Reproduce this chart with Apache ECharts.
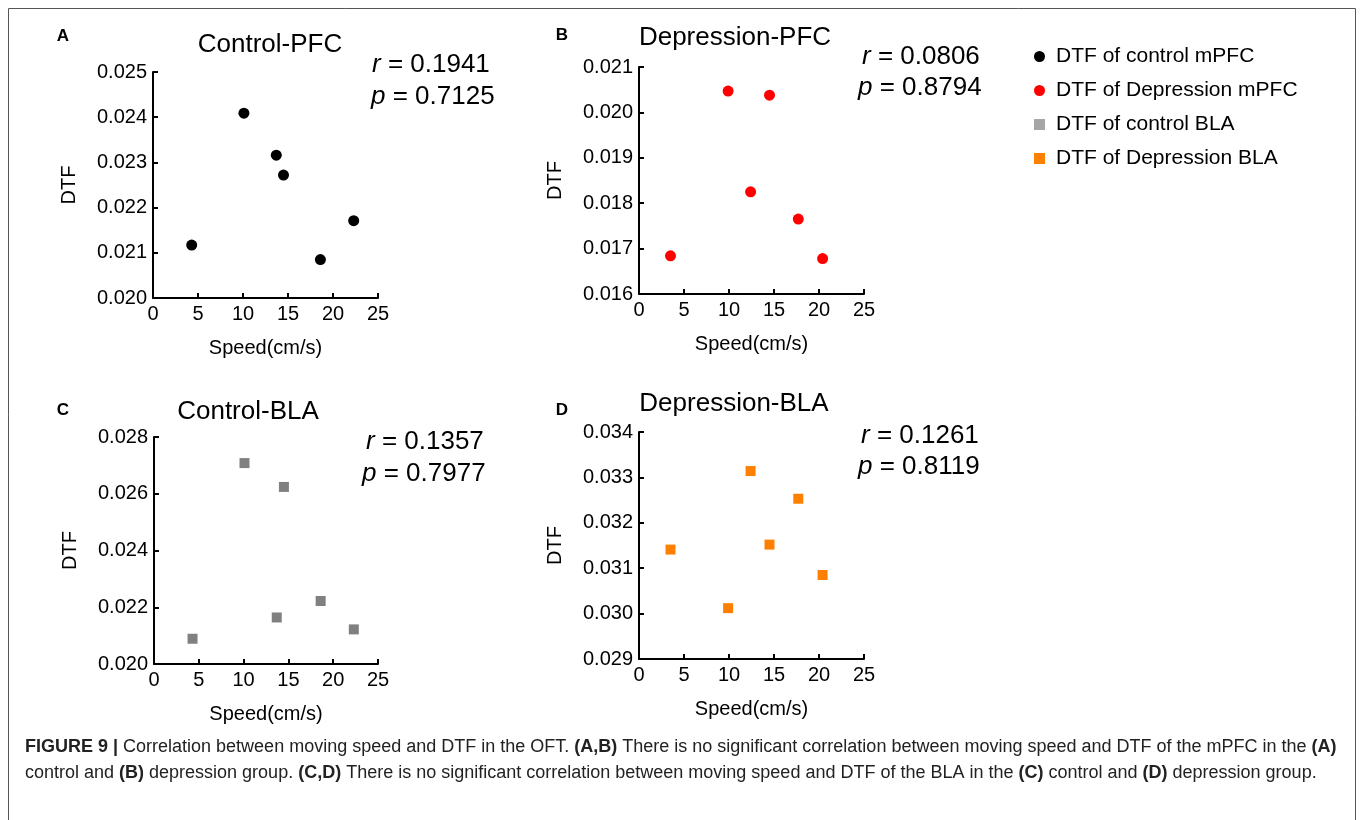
<!DOCTYPE html>
<html>
<head>
<meta charset="utf-8">
<title>Figure 9 - speed vs DTF</title>
<script src="https://cdn.jsdelivr.net/npm/echarts@6/dist/echarts.min.js"></script>
<style>
  html, body { margin: 0; padding: 0; background: #fff; }
  #chart { width: 1360px; height: 820px; }
</style>
</head>
<body>
<div id="chart"></div>
<script>
// speed of each animal (cm/s), same animals in PFC and BLA panels
const speedControl = [4.3, 10.1, 13.7, 14.5, 18.6, 22.3];
const speedDepression = [3.5, 9.9, 12.4, 14.5, 17.7, 20.4];

const dtfControlPFC = [0.02117, 0.02409, 0.02316, 0.02272, 0.02085, 0.02171];
const dtfDepressionPFC = [0.01684, 0.02047, 0.01825, 0.02038, 0.01765, 0.01678];
const dtfControlBLA = [0.02089, 0.02708, 0.02164, 0.02624, 0.02222, 0.02122];
const dtfDepressionBLA = [0.03141, 0.03012, 0.03314, 0.03152, 0.03253, 0.03085];

const panelLetters = ['A', 'B', 'C', 'D'];
const panelTitles = ['Control-PFC', 'Depression-PFC', 'Control-BLA', 'Depression-BLA'];
const seriesNames = ['DTF of control mPFC', 'DTF of Depression mPFC', 'DTF of control BLA', 'DTF of Depression BLA'];
const rValues = ['0.1941', '0.0806', '0.1357', '0.1261'];
const pValues = ['0.7125', '0.8794', '0.7977', '0.8119'];

const yMin = [0.020, 0.016, 0.020, 0.029];
const yMax = [0.025, 0.021, 0.028, 0.034];
const yStep = [0.001, 0.001, 0.002, 0.001];
const xMin = 0, xMax = 25, xStep = 5;

const FONT = '"Liberation Sans", Arial, Helvetica, sans-serif';

// layout of each panel (px)
const grids = [
    { left: 153, top: 72, width: 225, height: 226 },
    { left: 639, top: 67, width: 225, height: 227 },
    { left: 154, top: 437, width: 224, height: 227 },
    { left: 639, top: 432, width: 225, height: 227 },
];
const letterPos = [[63, 36], [562, 35], [63, 410], [562, 410]];
const titlePos = [[270, 45], [735, 38], [248, 412], [734, 404]];
const rPos = [[372, 65], [862, 57], [366, 442], [861, 436]];
const pPos = [[371, 97], [858, 88], [362, 474], [858, 467]];

const colors = ['#000000', '#ff0000', '#808080', '#ff8000'];
const legendColors = ['#000000', '#ff0000', '#a6a6a6', '#ff8000'];
const symbols = ['circle', 'circle', 'rect', 'rect'];
const symbolSizes = [11, 11, 10, 10];

const xs = [speedControl, speedDepression, speedControl, speedDepression];
const ys = [dtfControlPFC, dtfDepressionPFC, dtfControlBLA, dtfDepressionBLA];

const chart = echarts.init(document.getElementById('chart'), null, { renderer: 'canvas' });

const axisLine = { show: true, lineStyle: { color: '#000', width: 2 } };
const axisTick = { show: true, inside: true, length: 5, lineStyle: { color: '#000', width: 2 } };

const xAxes = grids.map((g, i) => ({
    type: 'value',
    gridIndex: i,
    min: xMin,
    max: xMax,
    interval: xStep,
    axisLine,
    axisTick,
    splitLine: { show: false },
    axisLabel: { color: '#000', fontSize: 20, fontFamily: FONT, margin: 6 },
    name: 'Speed(cm/s)',
    nameLocation: 'middle',
    nameGap: 40,
    nameTextStyle: { color: '#000', fontSize: 20, fontFamily: FONT },
}));

const yAxes = grids.map((g, i) => ({
    type: 'value',
    gridIndex: i,
    min: yMin[i],
    max: yMax[i],
    interval: yStep[i],
    axisLine,
    axisTick,
    splitLine: { show: false },
    axisLabel: {
        color: '#000', fontSize: 20, fontFamily: FONT, margin: 6,
        formatter: v => v.toFixed(3),
    },
    name: 'DTF',
    nameLocation: 'middle',
    nameRotate: 90,
    nameGap: 74,
    nameTextStyle: { color: '#000', fontSize: 20, fontFamily: FONT },
}));

const series = ys.map((vals, i) => ({
    name: seriesNames[i],
    type: 'scatter',
    xAxisIndex: i,
    yAxisIndex: i,
    symbol: symbols[i],
    symbolSize: symbolSizes[i],
    itemStyle: { color: colors[i], opacity: 1 },
    data: vals.map((v, k) => [xs[i][k], v]),
}));

// texts: panel letters, titles, r / p values
const graphics = [];
panelLetters.forEach((L, i) => {
    graphics.push({
        type: 'text', x: letterPos[i][0], y: letterPos[i][1],
        style: { text: L, fontSize: 17, fontWeight: 'bold', fontFamily: FONT, fill: '#000', align: 'center', verticalAlign: 'middle' },
    });
    graphics.push({
        type: 'text', x: titlePos[i][0], y: titlePos[i][1],
        style: { text: panelTitles[i], fontSize: 26, fontFamily: FONT, fill: '#000', align: 'center', verticalAlign: 'middle' },
    });
    graphics.push({
        type: 'text', x: rPos[i][0], y: rPos[i][1],
        style: {
            text: '{i|r} = ' + rValues[i], fontSize: 26, fontFamily: FONT, fill: '#000', verticalAlign: 'middle',
            rich: { i: { fontStyle: 'italic', fontSize: 26, fontFamily: FONT, fill: '#000' } },
        },
    });
    graphics.push({
        type: 'text', x: pPos[i][0], y: pPos[i][1],
        style: {
            text: '{i|p} = ' + pValues[i], fontSize: 26, fontFamily: FONT, fill: '#000', verticalAlign: 'middle',
            rich: { i: { fontStyle: 'italic', fontSize: 26, fontFamily: FONT, fill: '#000' } },
        },
    });
});

// caption
const captionRich = {
    b: { fontWeight: 'bold', fontSize: 18, fontFamily: FONT, fill: '#222' },
};
graphics.push({
    type: 'text', x: 25, y: 747,
    style: {
        text: '{b|FIGURE 9 |} Correlation between moving speed and DTF in the OFT. {b|(A,B)} There is no significant correlation between moving speed and DTF of the mPFC in the {b|(A)}',
        fontSize: 18, fontFamily: FONT, fill: '#222', verticalAlign: 'middle', rich: captionRich,
    },
});
graphics.push({
    type: 'text', x: 25, y: 773,
    style: {
        text: 'control and {b|(B)} depression group. {b|(C,D)} There is no significant correlation between moving speed and DTF of the BLA in the {b|(C)} control and {b|(D)} depression group.',
        fontSize: 18, fontFamily: FONT, fill: '#222', verticalAlign: 'middle', rich: captionRich,
    },
});

// outer frame
graphics.push({
    type: 'rect', shape: { x: 8.5, y: 8.5, width: 1347, height: 830 },
    style: { fill: 'none', stroke: '#555', lineWidth: 1 }, silent: true, z: -1,
});

const option = {
    backgroundColor: '#fff',
    animation: false,
    grid: grids,
    xAxis: xAxes,
    yAxis: yAxes,
    legend: {
        orient: 'vertical',
        left: 1029,
        top: 41,
        itemWidth: 11,
        itemHeight: 11,
        itemGap: 13,
        textStyle: { color: '#000', fontSize: 21, fontFamily: FONT, lineHeight: 21, padding: [0, 0, 0, 6] },
        data: seriesNames.map((n, i) => ({ name: n, icon: symbols[i], itemStyle: { color: legendColors[i], opacity: 1 } })),
        selectedMode: false,
    },
    series,
    graphic: graphics,
};

chart.setOption(option);
</script>
</body>
</html>
